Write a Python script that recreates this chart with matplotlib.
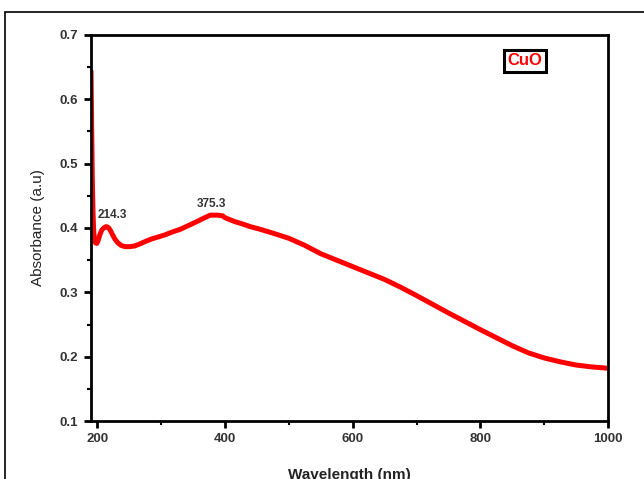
import numpy as np
import matplotlib.pyplot as plt
from matplotlib.patches import Rectangle
from matplotlib.ticker import MultipleLocator

plt.rcParams['font.family'] = ['Liberation Sans', 'DejaVu Sans']

# UV-Vis spectrum of CuO
wavelength = [190, 191, 192, 193, 194, 195, 197, 199, 201, 204, 207, 210, 213,
              215, 218, 221, 224, 228, 232, 237, 243, 250, 258, 266, 275, 285,
              295, 305, 318, 330, 343, 356, 366, 377, 388, 396, 400, 405, 415,
              425, 440, 455, 475, 500, 525, 550, 575, 600, 625, 650, 675, 700,
              750, 800, 850, 875, 900, 925, 950, 975, 1000]
absorbance = [0.645, 0.56, 0.48, 0.43, 0.40, 0.385, 0.377, 0.376, 0.380, 0.390,
              0.397, 0.400, 0.402, 0.402, 0.400, 0.395, 0.389, 0.382, 0.377,
              0.373, 0.371, 0.371, 0.372, 0.375, 0.379, 0.383, 0.386, 0.389,
              0.394, 0.398, 0.404, 0.410, 0.415, 0.420, 0.420, 0.419, 0.416,
              0.414, 0.410, 0.407, 0.402, 0.398, 0.392, 0.384, 0.373, 0.360,
              0.350, 0.340, 0.330, 0.320, 0.308, 0.295, 0.268, 0.242, 0.217,
              0.206, 0.198, 0.192, 0.187, 0.184, 0.182]

peak_labels = ['214.3', '375.3']
label_x = [224, 379]
label_y = [0.420, 0.437]

fig = plt.figure(figsize=(6.44, 4.79), dpi=100)
ax = fig.add_axes([91/644, 1 - 421/479, 517/644, 386/479])

# outer frame of the original picture (runs off the right/bottom edge)
fig.patches.append(Rectangle((5/644, -0.2), 1.0, 0.2 + 1 - 12/479,
                             transform=fig.transFigure, fill=False,
                             edgecolor='black', linewidth=1.2))

ax.plot(wavelength, absorbance, color='red', linewidth=3.6,
        solid_capstyle='butt', solid_joinstyle='round')

for x, y, t in zip(label_x, label_y, peak_labels):
    ax.text(x, y, t, fontsize=8.5, fontweight='bold', color='#333333',
            ha='center', va='center')

ax.text(870, 0.66, 'CuO', fontsize=12, fontweight='bold',
        color='red', ha='center', va='center',
        bbox=dict(boxstyle='square,pad=0.22', facecolor='white',
                  edgecolor='black', linewidth=2.2))

ax.set_xlim(190, 1000)
ax.set_ylim(0.1, 0.7)
ax.xaxis.set_major_locator(MultipleLocator(200))
ax.xaxis.set_minor_locator(MultipleLocator(100))
ax.yaxis.set_major_locator(MultipleLocator(0.1))
ax.yaxis.set_minor_locator(MultipleLocator(0.05))
ax.yaxis.set_major_formatter(plt.FormatStrFormatter('%.1f'))

for s in ax.spines.values():
    s.set_linewidth(2.0)
ax.tick_params(which='major', direction='out', length=5, width=2,
               labelsize=9.5, pad=4)
ax.tick_params(which='minor', direction='out', length=3, width=1.5)
for lbl in ax.get_xticklabels() + ax.get_yticklabels():
    lbl.set_fontweight('bold')
    lbl.set_color('#333333')

ax.set_ylabel('Absorbance (a.u)', fontsize=11, color='#222222', labelpad=11)
fig.text(349.5/644, 1 - 468/479, 'Wavelength (nm)', fontsize=11,
         fontweight='bold', color='#222222', ha='center', va='top')

fig.savefig('out.png', dpi=100)
